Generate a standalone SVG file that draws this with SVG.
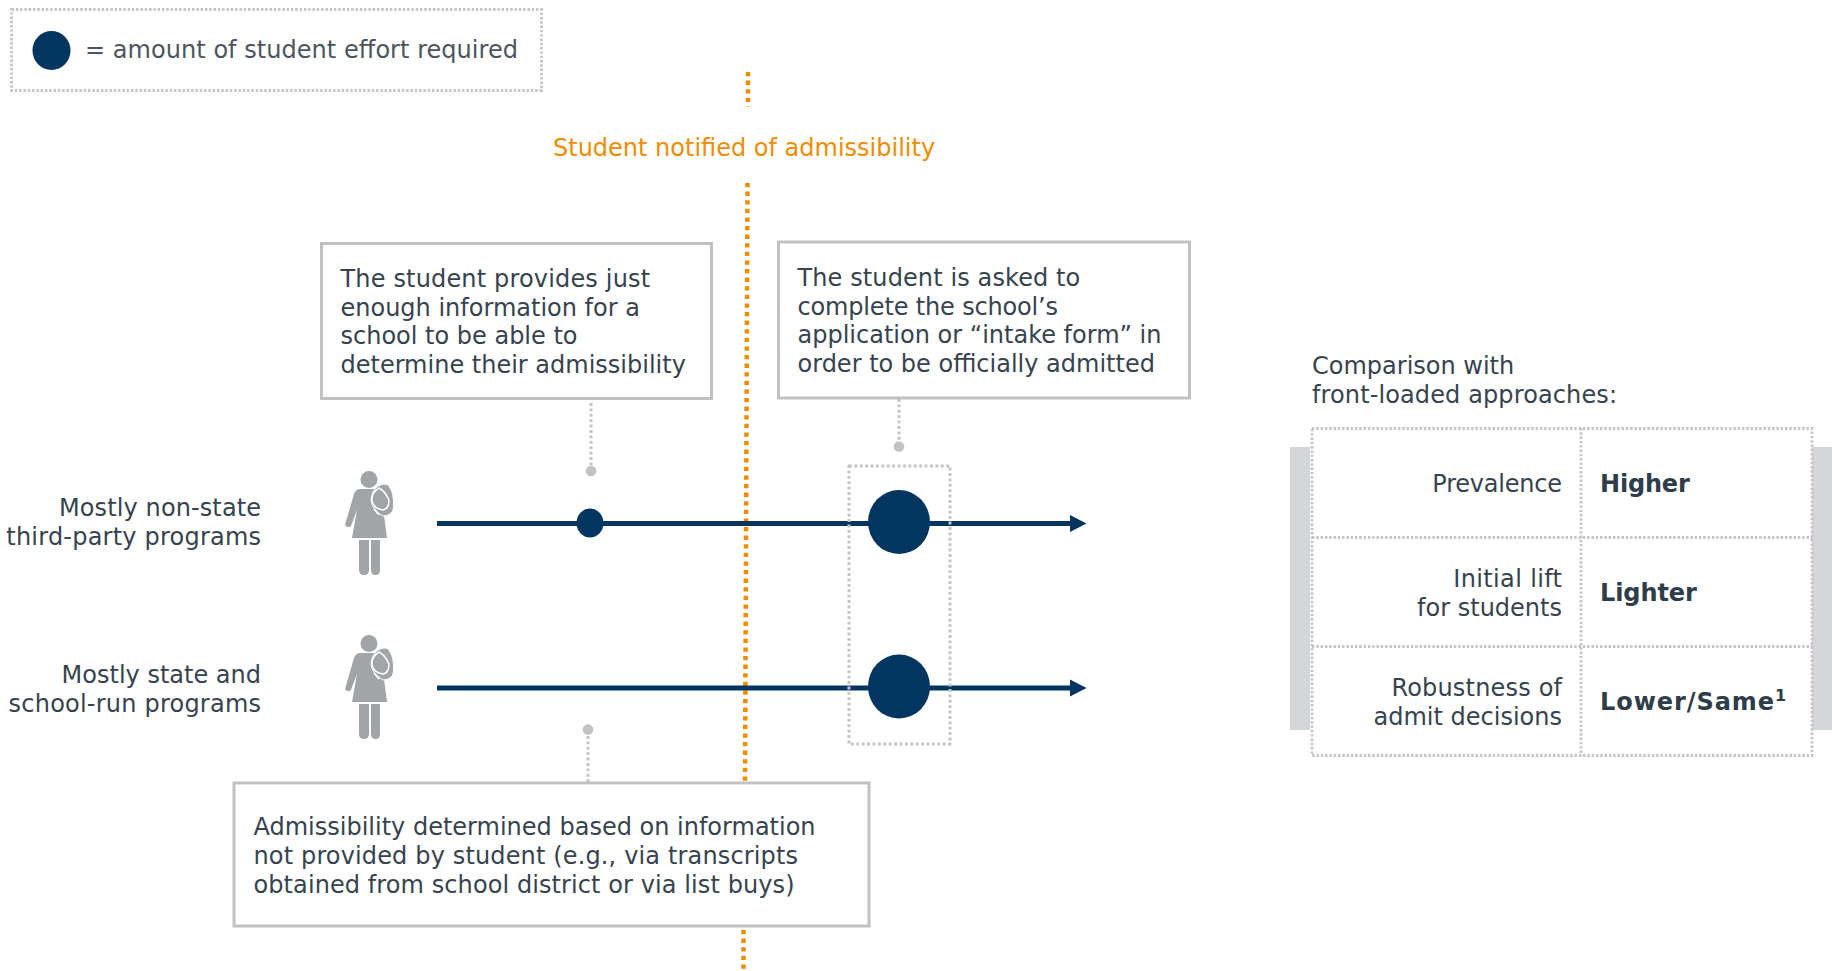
<svg xmlns="http://www.w3.org/2000/svg" width="1832" height="971" viewBox="0 0 1832 971">
<style>
text{font-family:"DejaVu Sans",Verdana,sans-serif;font-size:24px;fill:#36434f}
.e{text-anchor:end}
.b{font-weight:700;fill:#2f3d4a}
.box{fill:#fff;stroke:#bfc1c3;stroke-width:3}
.dot{fill:none;stroke:#c3c5c8;stroke-width:2.800;stroke-dasharray:2.400 1.900}
.dot2{fill:none;stroke:#c3c5c8;stroke-width:3;stroke-dasharray:2.900 2.500}
.or{fill:none;stroke:#f08c00;stroke-width:4.500;stroke-dasharray:4.300 4.300}
.ax{stroke:#02355f;fill:none}
.n{fill:#02355f}
.g{fill:#c1c3c6}
.p{fill:#a1a5a8}
</style>
<defs>
<marker id="arr" markerUnits="userSpaceOnUse" markerWidth="17" markerHeight="18" refX="1" refY="9" orient="auto"><path d="M0 0.500L16.500 9L0 17.500Z" fill="#02355f"/></marker>
<g id="person">
<circle cx="369" cy="479.500" r="8.500"/>
<path d="M360 489H378L382 500L387 538H352L357 510L351 526Q348 529 345 525L354 494Q356 489 360 489Z"/>
<path d="M359 540H369V570Q369 575 364 575Q359 575 359 570ZM371 540H380V570Q380 575 375.500 575Q371 575 371 570Z"/>
<path d="M378 486Q388 481 390 488Q394 493 393.500 508Q392 516 383 516Q372 510 371 500Q372 490 378 486Z" stroke="#fff" stroke-width="1"/>
<path d="M379 488Q371 493 372 501Q374 509 383 510Q389 509 389 500Q385 491 379 488ZM374 509L379 515" fill="none" stroke="#fff" stroke-width="1.500"/>
</g>
</defs>
<g id="legend">
<rect x="11.500" y="9.500" width="530" height="81" class="dot"/>
<ellipse cx="51.500" cy="50.500" rx="19" ry="19.500" class="n"/>
<text x="85" y="58" textLength="433" style="fill:#4b5560">= amount of student effort required</text>
</g>
<g id="connectors">
<path class="or" d="M748 72V107"/>
<path class="or" d="M747.500 183L745 783"/>
<path class="or" d="M743.500 930V971"/>
<path class="dot2" d="M591 403V466"/>
<path class="dot2" d="M899 399V442"/>
<path class="dot2" d="M588 736V783"/>
<path class="ax" stroke-width="5" d="M437 523.500H1071" marker-end="url(#arr)"/>
<path class="ax" stroke-width="5" d="M437 688H1071" marker-end="url(#arr)"/>
</g>
<g id="milestone"><text x="553" y="156" style="fill:#f08c00">Student notified of admissibility</text></g>
<g id="box-left">
<rect x="321.500" y="243.500" width="390" height="155" class="box"/>
<text x="340.500" y="287" textLength="309.600">The student provides just</text>
<text x="340.500" y="316">enough information for a</text>
<text x="340.500" y="344">school to be able to</text>
<text x="340.500" y="373">determine their admissibility</text>
</g>
<g id="box-right">
<rect x="778.500" y="242" width="411" height="156" class="box"/>
<text x="797.500" y="286" textLength="282.800">The student is asked to</text>
<text x="797.500" y="315" textLength="260.600">complete the school’s</text>
<text x="797.500" y="343">application or “intake form” in</text>
<text x="797.500" y="372">order to be officially admitted</text>
</g>
<g id="box-bottom">
<rect x="234" y="783" width="635" height="143" class="box"/>
<text x="253.500" y="835">Admissibility determined based on information</text>
<text x="253.500" y="864" textLength="544.500">not provided by student (e.g., via transcripts</text>
<text x="253.500" y="893" textLength="541">obtained from school district or via list buys)</text>
</g>
<g id="row-1">
<text class="e" x="261" y="516" textLength="202">Mostly non-state</text>
<text class="e" x="261" y="545" textLength="254.700">third-party programs</text>
<use href="#person" class="p"/>
<ellipse cx="590" cy="523" rx="13.500" ry="14.500" class="n"/>
</g>
<g id="row-2">
<text class="e" x="261" y="683">Mostly state and</text>
<text class="e" x="261" y="712" textLength="252.400">school-run programs</text>
<use href="#person" class="p" y="164"/>
</g>
<g id="group-box">
<rect x="849" y="466" width="101" height="278" class="dot2"/>
<ellipse cx="899" cy="522" rx="31" ry="32" class="n"/>
<ellipse cx="899" cy="686.500" rx="31" ry="32" class="n"/>
</g>
<g id="pins">
<circle cx="591" cy="471" r="5.300" class="g"/>
<circle cx="899" cy="446.500" r="5.300" class="g"/>
<circle cx="588" cy="729.500" r="5.300" class="g"/>
</g>
<g id="comparison">
<text x="1312" y="374">Comparison with</text>
<text x="1312" y="403" textLength="305">front-loaded approaches:</text>
<rect x="1290" y="447" width="20" height="283" fill="#d5d6d8"/>
<rect x="1812" y="447" width="20" height="283" fill="#d5d6d8"/>
<rect x="1312" y="428.500" width="500" height="327" fill="#fff"/>
<rect x="1312" y="428.500" width="500" height="327" class="dot"/>
<path class="dot" d="M1312 537.500H1812M1312 646.500H1812M1581 428V756"/>
<text class="e" x="1562" y="492" textLength="129.700">Prevalence</text>
<text class="e" x="1562" y="587" textLength="108.700">Initial lift</text>
<text class="e" x="1562" y="616">for students</text>
<text class="e" x="1562" y="696" textLength="170.600">Robustness of</text>
<text class="e" x="1562" y="725">admit decisions</text>
<text class="b" x="1600" y="492" textLength="89.800">Higher</text>
<text class="b" x="1600" y="601" textLength="96.800">Lighter</text>
<text class="b" x="1600" y="710"><tspan textLength="174">Lower/Same</tspan><tspan dy="-9" style="font-size:16px;font-weight:700">1</tspan></text>
</g>
</svg>
